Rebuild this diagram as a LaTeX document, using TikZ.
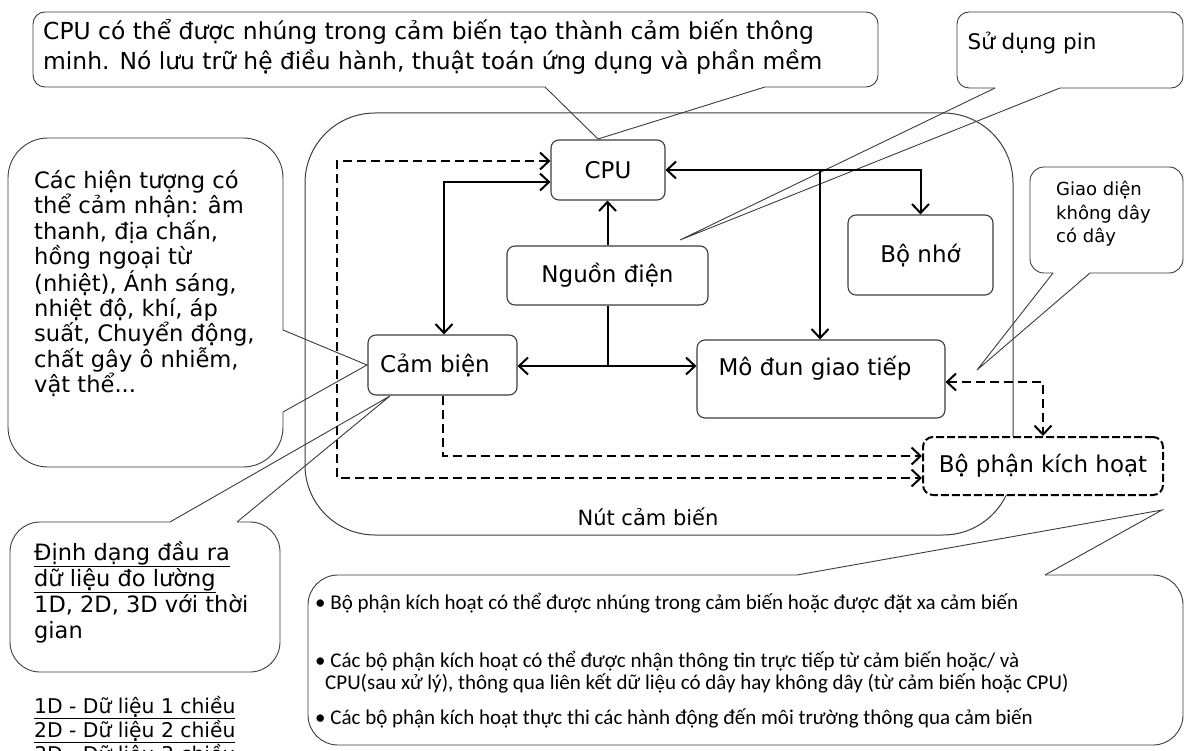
\documentclass[tikz,border=0pt]{standalone}
\usepackage{fontspec}
\setmainfont{DejaVu Sans}
\newfontfamily\condf{Carlito}
\usetikzlibrary{arrows.meta}
\definecolor{ln}{HTML}{3C3C3C}
\begin{document}
\begin{tikzpicture}[x=1pt,y=-1pt,
  callout/.style={draw=ln, line width=0.9pt, line join=miter},
  blk/.style={draw=ln, line width=1.1pt, rounded corners=8pt, fill=white, inner sep=0pt},
  lbl/.style={font=\fontsize{23}{26}\selectfont},
  con/.style={line width=2pt, black},
  tip/.style={{Straight Barb[length=9pt,width=17pt]}-{Straight Barb[length=9pt,width=17pt]}},
  tipr/.style={-{Straight Barb[length=9pt,width=17pt]}},
  dsh/.style={line width=2pt, black, dash pattern=on 9pt off 5pt},
  txt/.style={inner sep=0pt, align=left}
]
\useasboundingbox (0,0) rectangle (1185,751);

% big node frame
\draw[ln, line width=1pt, rounded corners=70pt] (305,113) rectangle (1013,535);
\node[font=\fontsize{21}{25}\selectfont] (nut) at (648,517) {Nút cảm biến};

% callout 1 (CPU)
\draw[callout, rounded corners=12pt] (765,87) -- (878,87) -- (878,12) -- (33,12) -- (33,87) -- (545,87);
\draw[callout] (545,87) -- (598,139) -- (765,87);
\node[txt, anchor=west, font=\fontsize{23.4}{30}\selectfont] (t1) at (43,47) {CPU có thể được nhúng trong cảm biến tạo thành cảm biến thông\\minh. Nó lưu trữ hệ điều hành, thuật toán ứng dụng và phần mềm};

% callout 2 (battery)
\draw[callout, rounded corners=12pt] (1060,88) -- (1183,88) -- (1183,12) -- (957,12) -- (957,88) -- (995,88);
\draw[callout] (995,88) -- (680,240) -- (1060,88);
\node[font=\fontsize{21.5}{26}\selectfont] (t2) at (1032,43) {Sử dụng pin};

% callout 3 (interface)
\draw[callout, rounded corners=14pt] (1090,273) -- (1183,273) -- (1183,167) -- (1030,167) -- (1030,273) -- (1053,273);
\draw[callout] (1053,273) -- (977,370) -- (1090,273);
\node[txt, anchor=north west, font=\fontsize{18}{23.5}\selectfont] (t3) at (1056,181) {Giao diện\\không dây\\có dây};

% callout 4 (phenomena)
\draw[callout, rounded corners=40pt] (283,330) -- (283,138) -- (8,138) -- (8,467) -- (283,467) -- (283,412);
\draw[callout] (283,412) -- (367,365) -- (283,330);
\node[txt, anchor=north west, font=\fontsize{22.6}{25.4}\selectfont] (t4) at (34,170) {Các hiện tượng có\\thể cảm nhận: âm\\thanh, địa chấn,\\hồng ngoại từ\\(nhiệt), Ánh sáng,\\nhiệt độ, khí, áp\\suất, Chuyển động,\\chất gây ô nhiễm,\\vật thể...};

% callout 5 (output format)
\draw[callout, rounded corners=30pt] (237,522) -- (280,522) -- (280,672) -- (10,672) -- (10,522) -- (170,522);
\draw[callout] (170,522) -- (390,396) -- (237,522);
\node[txt, anchor=north west, font=\fontsize{22.5}{26}\selectfont] (t5) at (34,541) {\underline{Định dạng đầu ra}\\\underline{dữ liệu đo lường}\\1D, 2D, 3D với thời\\gian};

\node[txt, anchor=north west, font=\fontsize{20.3}{24}\selectfont] (t6) at (34,696) {\underline{1D - Dữ liệu 1 chiều}\\\underline{2D - Dữ liệu 2 chiều}\\\underline{3D - Dữ liệu 3 chiều}};

% callout 6 (actuator notes)
\draw[callout, rounded corners=30pt] (1045,575) -- (1183,575) -- (1183,745) -- (308,745) -- (308,575) -- (797,575);
\draw[callout] (797,575) -- (1162,510) -- (1045,575);
\begin{scope}[every node/.style={txt, anchor=west, font=\condf\fontsize{21}{24}\selectfont}]
\node (b1) at (315,603) {• Bộ phận kích hoạt có thể được nhúng trong cảm biến hoặc được đặt xa cảm biến};
\node (b2) at (315,661) {• Các bộ phận kích hoạt có thể được nhận thông tin trực tiếp từ cảm biến hoặc/ và};
\node (b3) at (325,683) {CPU(sau xử lý), thông qua liên kết dữ liệu có dây hay không dây (từ cảm biến hoặc CPU)};
\node (b4) at (315,718) {• Các bộ phận kích hoạt thực thi các hành động đến môi trường thông qua cảm biến};
\end{scope}

% blocks
\node[blk, lbl, minimum width=114pt, minimum height=60pt] (cpu) at (608,170) {CPU};
\node[blk, lbl, minimum width=201pt, minimum height=59pt] (pwr) at (607.5,275.5) {Nguồn điện};
\node[blk, lbl, minimum width=145pt, minimum height=80pt] (mem) at (920.5,255) {Bộ nhớ};
\node[blk, minimum width=149pt, minimum height=60pt] (sen) at (442.5,365) {};
\node[lbl, inner sep=0pt] (sent) at (435,365) {Cảm biện};
\node[blk, minimum width=248pt, minimum height=78pt] (com) at (821,379) {};
\node[lbl, inner sep=0pt] (comt) at (815,368) {Mô đun giao tiếp};
\node[blk, lbl, dash pattern=on 8pt off 3pt, line width=2pt, rounded corners=10pt, draw=black, minimum width=240pt, minimum height=58pt] (act) at (1043,466) {Bộ phận kích hoạt};

% connectors
\coordinate (bus) at (820,170);
\draw[con, tip] (cpu.east) -- (mem.north |- cpu.east) -- (mem.north);
\draw[con, tipr] (bus) -- (bus |- com.north);
\draw[con, tipr] (pwr.north) -- (pwr.north |- cpu.south);
\coordinate (pj) at (607.5,366);
\draw[con] (pwr.south) -- (pj);
\draw[con, tip] (sen.east |- pj) -- (pj -| com.west);
\coordinate (cs) at (444,182);
\draw[con, tip] (cs -| cpu.west) -- (cs) -- (cs |- sen.north);

\coordinate (d1) at (337,161);
\coordinate (d2) at (337,478);
\draw[dsh, tip] (d1 -| cpu.west) -- (d1) -- (d2) -- (d2 -| act.west);
\coordinate (d3) at (443,456);
\draw[dsh, tipr] (d3 |- sen.south) -- (d3) -- (d3 -| act.west);
\coordinate (d4) at (1043,382);
\draw[dsh, tip] (d4 -| com.east) -- (d4) -- (act.north);
\end{tikzpicture}
\end{document}
